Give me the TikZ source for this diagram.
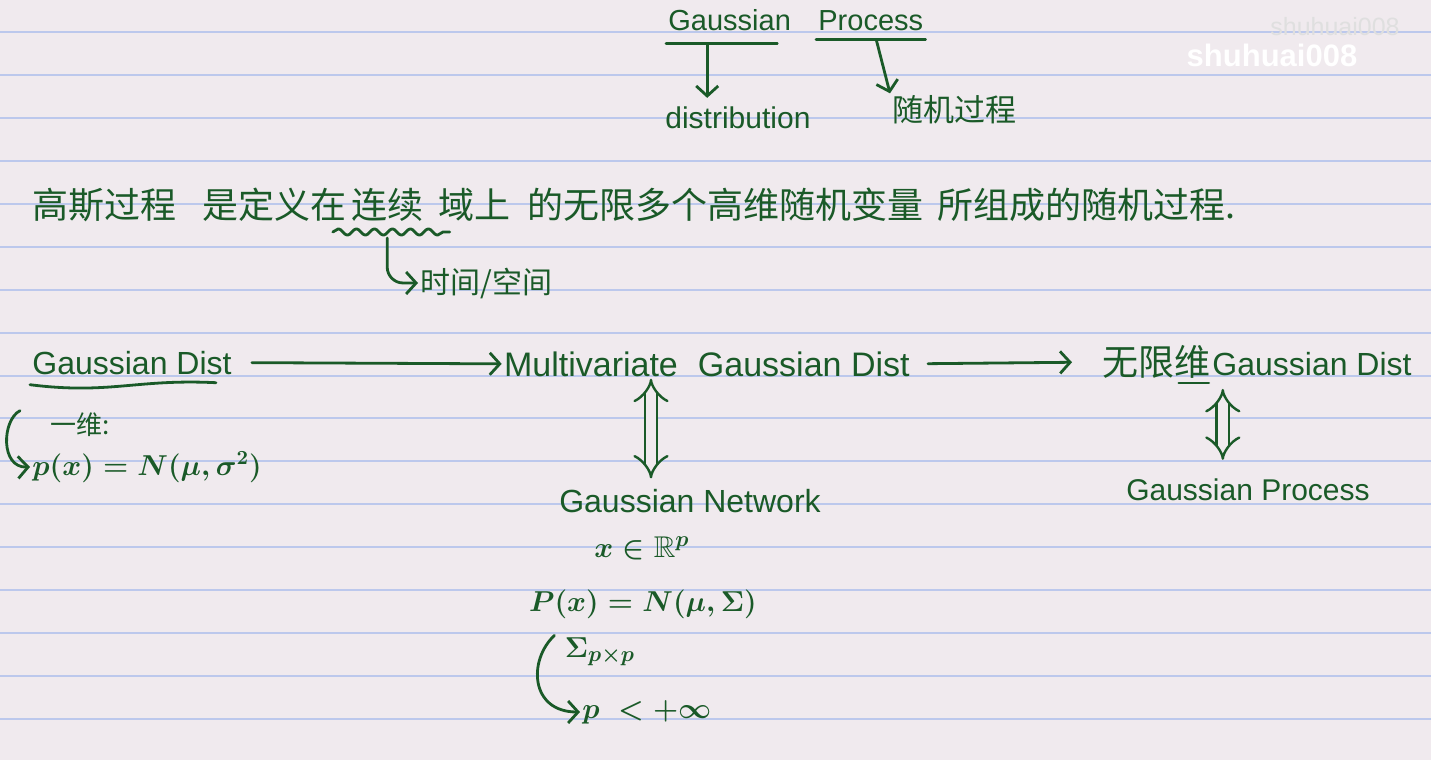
\documentclass[tikz,border=0pt]{standalone}
\usepackage{amssymb}
\usepackage{fontspec}
\usepackage{xcolor}
\usepackage{tikz}
\usetikzlibrary{arrows.meta, positioning, decorations.pathmorphing}
\setmainfont{Liberation Sans}
\newfontfamily\cjk{Noto Sans CJK SC}
\definecolor{NotePaper}{RGB}{240, 234, 238}
\definecolor{NoteRule}{RGB}{188, 200, 236}
\definecolor{NoteInk}{RGB}{26, 90, 40}
\newcommand{\notesize}[1]{\fontsize{#1}{#1}\selectfont}
\tikzset{
  ink/.style={draw=NoteInk, line width=1.4pt, line cap=round, line join=round},
  arr/.style={ink, -{Straight Barb[length=5pt, width=11pt]}},
  dbl/.style={draw=NoteInk, line width=1.2pt, double=NotePaper, double distance=5pt, {Implies}-{Implies}},
  word/.style={text=NoteInk, inner sep=1pt},
}
\begin{document}
\begin{tikzpicture}[x=0.5pt,y=-0.5pt]
  \path[use as bounding box] (0,0) rectangle (1431,760);
  \fill[NotePaper] (0,0) rectangle (1431,760);
  \foreach \k in {0,...,16}
    \draw[NoteRule, line width=1pt] (0,{32+42.94*\k}) -- (1431,{32+42.94*\k});

  % watermark
  \node[text=white!75!gray, font=\notesize{12.5}, inner sep=0pt] (wmb) at (1335,27) {shuhuai008};
  \node[text=white, font=\bfseries\notesize{15.5}, inner sep=0pt] (wma) at (1272,55) {shuhuai008};

  % Gaussian Process
  \node[word, anchor=base west, font=\notesize{14.5}] (gs) at (666,31) {Gaussian};
  \node[word, anchor=base west, font=\notesize{14.5}] (pr) at (816,31) {Process};
  \draw[ink] ([yshift=-5pt]gs.south west) -- coordinate[pos=0.37] (gsu) ([yshift=-5pt,xshift=-8pt]gs.south east);
  \draw[ink] ([yshift=-3pt]pr.south west) -- coordinate[pos=0.55] (pru) ([yshift=-3pt]pr.south east);
  \node[word, anchor=base west, font=\notesize{15}] (dist) at (663,128) {distribution};
  \node[word, anchor=west, font=\cjk\notesize{15.5}] (rand) at (890,110) {随机过程};
  \draw[arr, shorten >=3pt] (gsu) -- (gsu |- dist.north);
  \draw[arr] (pru) -- (rand.north west);

  % definition
  \node[word, anchor=west, font=\cjk\notesize{18}] (s1) at (30,205) {高斯过程};
  \node[word, anchor=west, font=\cjk\notesize{18}] (s2) at (200,205) {是定义在};
  \node[word, right=0pt of s2, font=\cjk\notesize{18}] (lx) {连续};
  \node[word, anchor=west, font=\cjk\notesize{18}] (s3) at (436,205) {域上};
  \node[word, anchor=west, font=\cjk\notesize{18}] (s4) at (525,205) {的无限多个高维随机变量};
  \node[word, anchor=west, font=\cjk\notesize{18}] (s5) at (935,205) {所组成的随机过程.};
  \draw[ink, decorate, decoration={snake, amplitude=1.6pt, segment length=9pt}]
    ([yshift=-4pt,xshift=-8pt]lx.south west) -- ([yshift=-4pt,xshift=12pt]lx.south east);
  \coordinate (wv) at ([yshift=-7pt]lx.south);
  \node[word, anchor=west, font=\cjk\notesize{15}] (tkj) at (418,283) {时间/空间};
  \draw[arr, rounded corners=8pt] (wv) |- (tkj.west);

  % main row
  \node[word, anchor=base west, font=\notesize{16}] (gd) at (30,374) {Gaussian Dist};
  \draw[ink] ([yshift=-4pt]gd.south west) .. controls +(40pt,-5pt) and +(-40pt,2pt) .. ([xshift=-9pt,yshift=-3pt]gd.south east);
  \node[word, anchor=base, font=\notesize{17}] (mv) at (591,376) {Multivariate};
  \node[word, anchor=base east, font=\notesize{17}] (gd2) at (912,376) {Gaussian Dist};
  \node[word, anchor=west, font=\cjk\notesize{18}] (inf) at (1100,362) {无限维};
  \node[word, anchor=base east, font=\notesize{16}] (gd3) at (1414,375) {Gaussian Dist};
  \draw[ink] ([xshift=-17pt,yshift=-1pt]inf.south east) -- ([xshift=-2pt,yshift=-1pt]inf.south east);
  \draw[arr, shorten <=9pt] (gd.east) -- (mv.west);
  \draw[arr, shorten <=8pt, shorten >=14pt] (gd2.east) -- (inf.west);

  % one dimension
  \node[word, anchor=west, font=\cjk\notesize{13}] (yw) at (48,425) {一维:};
  \node[word, anchor=west, font=\boldmath\notesize{14}] (px) at (30,467) {$p(x)=N(\mu,\sigma^2)$};
  \draw[arr] ([xshift=-14pt]yw.north west) .. controls (2,420) and (0,468) .. (px.west);

  % multivariate
  \node[word, anchor=base, font=\notesize{16}] (gn) at (690,512) {Gaussian Network};
  \draw[dbl, shorten >=4pt] ([xshift=30pt]mv.south) -- ([xshift=30pt]mv.south |- gn.north);
  \node[word, anchor=base, font=\boldmath\notesize{15}] (rp) at (642,557) {$x\in\mathbb{R}^{p}$};
  \node[word, anchor=base, font=\boldmath\notesize{14}] (pn) at (643,611) {$P(x)=N(\mu,\Sigma)$};
  \node[word, font=\boldmath\notesize{15}] (sig) at (600,652) {$\Sigma_{p\times p}$};
  \node[word, anchor=west, font=\boldmath\notesize{15}] (pinf) at (580,712) {$p\;<+\infty$};
  \draw[arr] ([xshift=-4pt]sig.north west) .. controls (528,660) and (530,712) .. (pinf.west);

  % infinite
  \node[word, anchor=base, font=\notesize{15}] (gp) at (1248,500) {Gaussian Process};
  \draw[dbl, shorten <=4pt, shorten >=8pt] ([xshift=5pt]inf.south east) -- ([xshift=5pt]inf.south east |- gp.north);
\end{tikzpicture}
\end{document}
